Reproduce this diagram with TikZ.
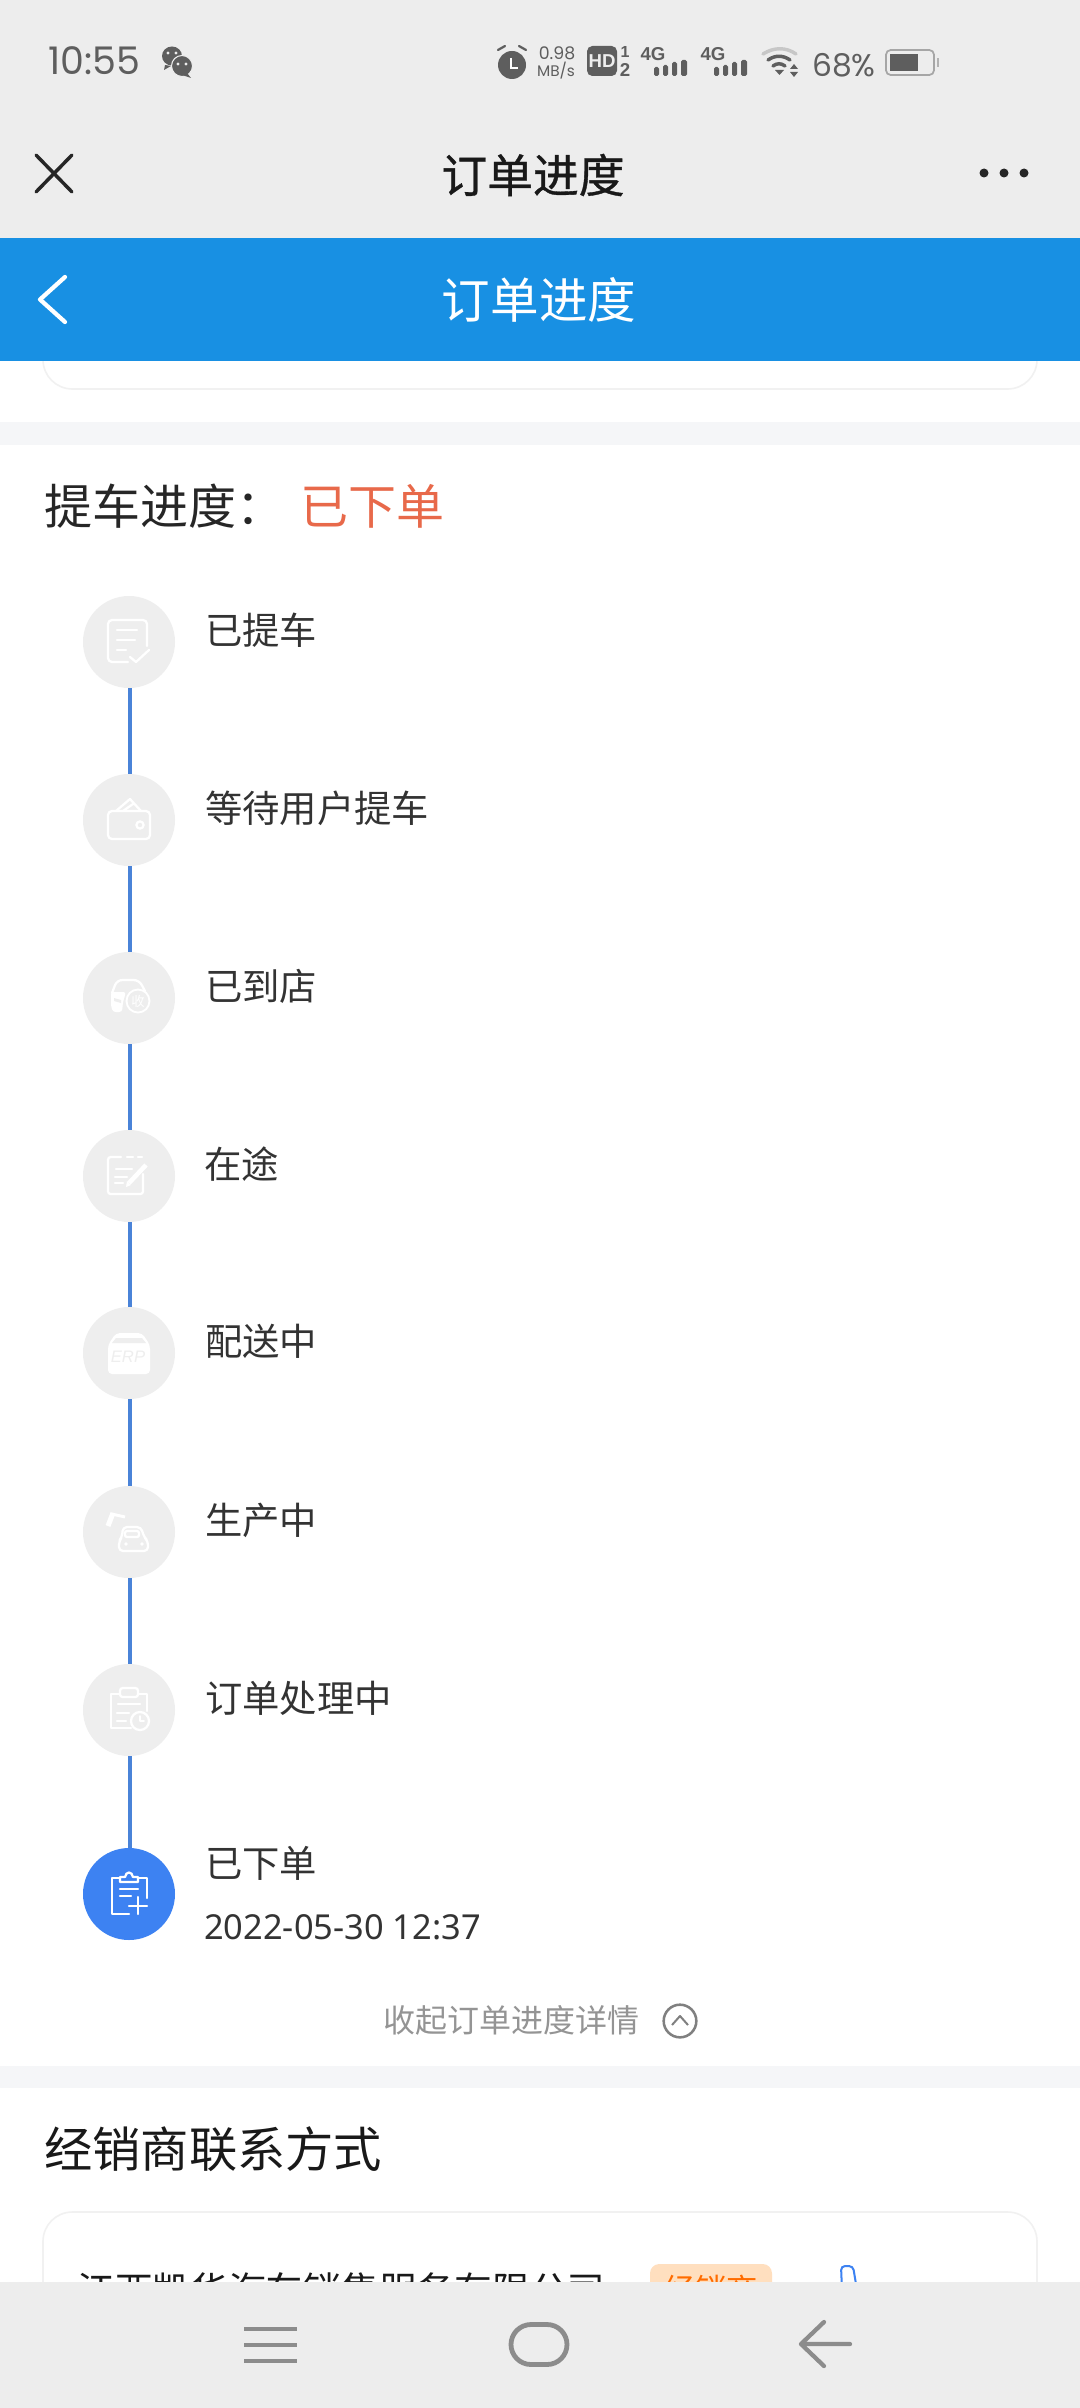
\documentclass[tikz,border=0pt]{standalone}
\usepackage{fontspec}
\setmainfont{Noto Sans CJK SC}
\newfontfamily\cjkmed[FakeBold=0.8]{Noto Sans CJK SC}
\newfontfamily\pop{Poppins}
\newfontfamily\dateface{Noto Sans}
\newfontfamily\liber{Liberation Sans}
\definecolor{barg}{HTML}{EDEDED}
\definecolor{blueh}{HTML}{1890E3}
\definecolor{band}{HTML}{F5F6F8}
\definecolor{circg}{HTML}{EEEEEE}
\definecolor{timeline}{HTML}{4A83D8}
\definecolor{activeb}{HTML}{3D82F2}
\definecolor{labelc}{HTML}{333333}
\definecolor{orangec}{HTML}{E8694A}
\definecolor{stat}{HTML}{5E5E5E}
\definecolor{navg}{HTML}{8C8C8C}
\definecolor{cardline}{HTML}{F1F1F1}
\tikzset{
  x=0.75pt,y=-0.75pt,
  statusdot/.style={circle,inner sep=0pt,minimum size=69pt,fill=circg},
  activedot/.style={statusdot,fill=activeb},
  linkline/.style={draw=timeline,line width=2.4pt},
  rowlabel/.style={anchor=west,inner sep=0pt,text=labelc,font=\fontsize{28}{30}\selectfont},
  ic/.style={draw=white,line width=1.7pt,line join=round,line cap=round,fill=none},
  icf/.style={fill=white,draw=none},
  stt/.style={inner sep=0pt,text=stat},
  card/.style={draw=cardline,line width=1.2pt,fill=white,rounded corners=22pt},
  navline/.style={draw=navg,line width=3.2pt},
}
\begin{document}
\begin{tikzpicture}
\useasboundingbox (0,0) rectangle (1080,2408);
\fill[white] (0,0) rectangle (1080,2408);
% bands
\fill[band] (0,422) rectangle (1080,445);
\fill[band] (0,2066) rectangle (1080,2088);
% upper card remnant
\draw[card] (43,300) rectangle (1037,389);
% top bars
\fill[barg] (0,0) rectangle (1080,238);
\fill[blueh] (0,238) rectangle (1080,361);
% status bar
\node[stt,anchor=west,font=\pop\fontsize{28.5}{30}\selectfont] (clock) at (48,61) {10:55};
\fill[stat] (172,56) ellipse[x radius=10,y radius=9.5];
\fill[stat] (165,65)--(164,70)--(171,66)--cycle;
\draw[barg,fill=stat,line width=0.8pt] (182,66) circle[radius=10.5];
\fill[stat] (187,73)--(191,78)--(182,75)--cycle;
\fill[barg] (168,53) circle[radius=1.6] (176,53) circle[radius=1.6] (178,64) circle[radius=1.6] (186,64) circle[radius=1.6];
\fill[stat] (512,65) circle[radius=14];
\draw[stat,line width=1.7pt,line cap=round] (498,50)--(505,46) (526,50)--(519,46);
\draw[white,line width=1.6pt] (511,58)--(511,68)--(518,68);
\node[stt,font=\pop\fontsize{13}{14}\selectfont] (speedval) at (557,53) {0.98};
\node[stt,font=\pop\fontsize{11.5}{12}\selectfont] (speedunit) at (556,71) {MB/s};
\fill[stat,rounded corners=4pt] (587,46) rectangle (617,76);
\node[inner sep=0pt,text=barg,font=\liber\bfseries\fontsize{14}{14}\selectfont] (hd) at (602,61) {HD};
\node[stt,font=\liber\bfseries\fontsize{12}{12}\selectfont] (simone) at (625,52) {1};
\node[stt,font=\liber\bfseries\fontsize{14}{14}\selectfont] (simtwo) at (625,70) {2};
\foreach \ox/\nm in {0/fourga,60/fourgb}{
  \node[stt,font=\liber\bfseries\fontsize{14}{14}\selectfont] (\nm) at (653+\ox,54) {4G};
  \fill[stat,rounded corners=1.2pt] (654+\ox,67) rectangle (659+\ox,76);
  \fill[stat,rounded corners=1.2pt] (663+\ox,65) rectangle (668+\ox,76);
  \fill[stat,rounded corners=1.2pt] (672+\ox,62) rectangle (677+\ox,76);
  \fill[stat,rounded corners=1.2pt] (681+\ox,60) rectangle (687+\ox,76);
}
\draw[line width=2.6pt,draw=black!22,line cap=round] (763,54) .. controls (774,47) and (786,47) .. (796,54);
\draw[line width=2.6pt,draw=stat,line cap=round] (768,60) .. controls (775,55) and (783,55) .. (790,60);
\draw[line width=2.6pt,draw=stat,line cap=round] (773,66) .. controls (777,63) and (781,63) .. (785,66);
\fill[stat] (775,70)--(784,70)--(779.5,75)--cycle;
\fill[stat] (794,64)--(798,69)--(790,69)--cycle (794,77)--(798,72)--(790,72)--cycle;
\node[stt,anchor=west,font=\pop\fontsize{23.5}{26}\selectfont] (battext) at (812,65) {68\%};
\draw[draw=black!35,line width=1.3pt,rounded corners=3.5pt] (886,50) rectangle (934,75);
\fill[stat] (890,54) rectangle (918,71);
\fill[black!30] (937,58) rectangle (939,67);
% title bars
\draw[draw=black!85,line width=2.6pt,line cap=round] (36,155)--(72,192) (72,155)--(36,192);
\node[inner sep=0pt,text=black!90,font=\cjkmed\fontsize{34.3}{36}\selectfont] (wintitle) at (533,175) {订单进度};
\fill[black!85] (984,173) circle[radius=4.5] (1004,173) circle[radius=4.5] (1024,173) circle[radius=4.5];
\draw[white,line width=3.2pt,line cap=round,line join=round] (65,277)--(40,299.5)--(65,322);
\node[inner sep=0pt,text=white,font=\fontsize{36.4}{38}\selectfont] (pagetitle) at (539,300) {订单进度};
% heading
\node[anchor=west,inner sep=0pt,text=black!85,font=\fontsize{36}{38}\selectfont] (headk) at (44,506) {提车进度：};
\node[anchor=west,inner sep=0pt,text=orangec,font=\fontsize{36}{38}\selectfont] (headv) at (300,506) {已下单};
% timeline
\node[statusdot] (c1) at (129,642) {};
\node[statusdot] (c2) at (129,820) {};
\node[statusdot] (c3) at (129,998) {};
\node[statusdot] (c4) at (129,1176) {};
\node[statusdot] (c5) at (129,1353) {};
\node[statusdot] (c6) at (129,1532) {};
\node[statusdot] (c7) at (129,1710) {};
\node[activedot] (c8) at (129,1894) {};
\begin{scope}[transform canvas={xshift=0.75pt}]
\foreach \a/\b in {c1/c2,c2/c3,c3/c4,c4/c5,c5/c6,c6/c7,c7/c8}{\draw[linkline] (\a) -- (\b);}
\end{scope}
\node[rowlabel] (t1) at (205,630) {已提车};
\node[rowlabel] (t2) at (205,808) {等待用户提车};
\node[rowlabel] (t3) at (205,986) {已到店};
\node[rowlabel] (t4) at (204,1164) {在途};
\node[rowlabel] (t5) at (205,1341) {配送中};
\node[rowlabel] (t6) at (205,1520) {生产中};
\node[rowlabel] (t7) at (205,1698) {订单处理中};
\node[rowlabel] (t8) at (205,1863) {已下单};
\node[anchor=west,inner sep=0pt,text=labelc,font=\dateface\fontsize{25.8}{28}\selectfont] (tdate) at (204,1927) {2022-05-30 12:37};
% icons
\begin{scope}[shift={(c1.center)}]
  \draw[ic,rounded corners=3pt] (-1,20)--(-21,20)--(-21,-22)--(18,-22)--(18,4);
  \draw[ic] (-12,-12)--(8,-12) (-12,-2)--(6,-2) (-12,8)--(-3,8);
  \draw[ic] (1,15)--(7,20)--(20,8);
\end{scope}
\begin{scope}[shift={(c2.center)}]
  \draw[ic,rounded corners=3pt] (-21,-9) rectangle (21,19);
  \draw[ic] (-13,-9)--(1,-21)--(12,-9) (-6,-9)--(4,-16);
  \draw[ic] (11,5) circle[radius=3.6];
\end{scope}
\begin{scope}[shift={(c3.center)}]
  \draw[ic,rounded corners=4pt] (-17,-5)--(-12,-18)--(10,-18)--(16,-7);
  \fill[icf,rounded corners=2pt] (-18,-6)--(-3,-6)--(-6,4)--(-7,14)--(-16,14)--(-18,8)--cycle;
  \fill[circg] (-15,0)--(-8,2)--(-8,5)--(-15,3)--cycle;
  \draw[ic,line width=1.4pt,fill=circg] (9,3) circle[radius=11.5];
  \node[inner sep=0pt,text=white,font=\fontsize{10}{10}\selectfont] (shouicon) at (9,3) {收};
\end{scope}
\begin{scope}[shift={(c4.center)}]
  \draw[ic,rounded corners=2pt] (-8,-19)--(-21,-19)--(-21,18)--(14,18)--(14,-2);
  \draw[ic] (-2,-19)--(4,-19) (9,-19)--(13,-19);
  \draw[ic] (-13,-7)--(3,-7) (-14,1)--(-2,1) (-14,7)--(-6,7);
  \draw[white,line width=3.4pt] (0,7)--(17,-11);
  \fill[white] (-3,11)--(-2,5)--(2,9)--cycle;
\end{scope}
\begin{scope}[shift={(c5.center)}]
  \fill[icf,rounded corners=3pt] (-13,-20)--(13,-20)--(21,-8)--(21,21)--(-21,21)--(-21,-8)--cycle;
  \fill[circg] (-13,-15)--(13,-15)--(17,-10)--(-17,-10)--cycle;
  \node[inner sep=0pt,text=circg,font=\liber\itshape\fontsize{12.5}{13}\selectfont] (erpicon) at (-1,4) {ERP};
\end{scope}
\begin{scope}[shift={(c6.center)}]
  \draw[white,line width=3.8pt] (-21,-6)--(-16,-19);
  \draw[white,line width=2.2pt] (-17,-18)--(-4,-15);
  \draw[ic,rounded corners=3pt] (-6,-5)--(12,-5)--(15,5)--(19,9)--(19,19)--(-10,19)--(-10,9)--(-7,5)--cycle;
  \draw[ic,rounded corners=1.5pt] (-4,-1) rectangle (10,5);
  \fill[white] (-3,12) circle[radius=1.9] (13,12) circle[radius=1.9];
\end{scope}
\begin{scope}[shift={(c7.center)}]
  \draw[ic] (2,18)--(-18,18)--(-18,-16)--(18,-16)--(18,1);
  \draw[ic,rounded corners=2pt,fill=circg] (-9,-22) rectangle (9,-13);
  \draw[ic] (-11,-6)--(11,-6) (-12,3)--(0,3) (-12,11)--(-3,11);
  \draw[ic] (11,11) circle[radius=9];
  \draw[ic,line width=1.2pt] (11,6)--(11,11)--(15,11);
\end{scope}
\begin{scope}[shift={(c8.center)}]
  \draw[ic] (0,20)--(-17,20)--(-17,-16)--(18,-16)--(18,4);
  \draw[ic,fill=activeb] (-9,-12)--(-9,-17)--(-4,-17) .. controls (-3,-23) and (3,-23) .. (4,-17)--(9,-17)--(9,-12)--cycle;
  \draw[ic] (-9,-5)--(9,-5) (-9,2)--(2,2);
  \draw[ic] (9,3)--(9,20) (0,12)--(18,12);
\end{scope}
% collapse link
\node[inner sep=0pt,text=black!42,font=\fontsize{24}{26}\selectfont] (collapse) at (511,2020) {收起订单进度详情};
\node[circle,draw=black!50,line width=1.9pt,minimum size=24.5pt,inner sep=0pt] (collapseic) at (680,2021) {};
\draw[black!50,line width=1.5pt,line join=round] ([shift={(-8,4)}]collapseic.center)--([shift={(0,-5)}]collapseic.center)--([shift={(8,4)}]collapseic.center);
% dealers
\node[anchor=west,inner sep=0pt,text=black!90,font=\fontsize{36.2}{38}\selectfont] (dealerh) at (44,2149) {经销商联系方式};
\draw[card] (43,2212) rectangle (1037,2400);
\node[anchor=west,inner sep=0pt,text=black!90,font=\fontsize{28.3}{30}\selectfont] (dealern) at (77,2290) {江西凯华汽车销售服务有限公司};
\node[fill=orange!25,rounded corners=7pt,inner sep=0pt,minimum width=91.5pt,minimum height=39pt,text=orange!85!red,font=\fontsize{23.5}{25}\selectfont] (tag) at (711,2290) {经销商};
\draw[draw=activeb,line width=1.5pt,rounded corners=3pt] (841,2266)--(853,2266)--(857,2290)--(842,2290)--cycle;
% bottom nav
\fill[barg] (0,2282) rectangle (1080,2408);
\draw[navline] (244,2329)--(297,2329) (244,2345)--(297,2345) (244,2361)--(297,2361);
\node[draw=navg,line width=3.6pt,rounded corners=15pt,minimum width=42pt,minimum height=30pt,inner sep=0pt] (navhome) at (539,2344.5) {};
\draw[navline,line cap=round,line join=round] (824,2322)--(801,2344)--(824,2366) (801,2344)--(850,2344);
\end{tikzpicture}
\end{document}
